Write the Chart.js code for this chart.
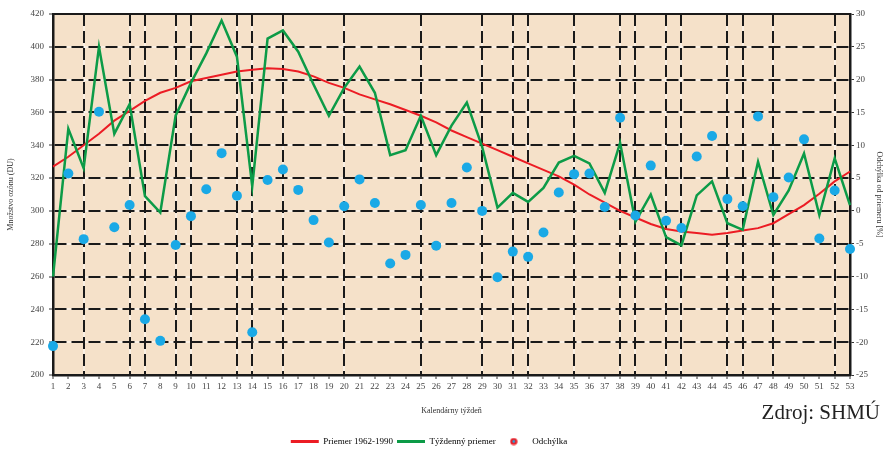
<!DOCTYPE html>
<html>
<head>
<meta charset="utf-8">
<script src="https://cdn.jsdelivr.net/npm/chart.js@4.4.1/dist/chart.umd.min.js"></script>
<style>
    html, body { margin: 0; padding: 0; background: #fff; }
    #wrap { position: relative; width: 884px; height: 450px; }
</style>
</head>
<body>
<div id="wrap"><canvas id="ozoneChart" width="884" height="450"></canvas></div>
<script>
// calendar weeks
const weeks = ['1','2','3','4','5','6','7','8','9','10','11','12','13','14','15','16','17','18','19','20',
    '21','22','23','24','25','26','27','28','29','30','31','32','33','34','35','36','37','38','39','40',
    '41','42','43','44','45','46','47','48','49','50','51','52','53'];

// Priemer 1962-1990 (DU)
const normal = [327, 333, 340, 347, 355, 361, 367, 372, 375, 379, 381, 383, 385, 386, 387, 386.5, 385, 382, 378, 375,
    371, 368, 365, 361.5, 358, 354, 349, 345, 341, 337, 333, 329, 325, 321, 316, 310, 305, 300, 296, 292,
    289, 287.5, 286.5, 285.5, 286.5, 288, 289.5, 292.5, 298, 303.5, 310.5, 318, 324];

// Týždenný priemer (DU)
const weekly = [260, 350, 326, 400, 347, 365, 309, 299, 358, 378, 396, 416, 394, 315, 405, 410, 397, 377, 358, 375,
    388, 372, 334, 337, 358, 334, 352, 366, 339, 302, 311, 305.5, 314, 329.5, 333.5, 329, 311, 341.5, 293.5, 310,
    284, 279, 309.5, 318, 292.5, 288.5, 330, 297.5, 312.5, 335, 297.5, 332, 303.5];

// Odchýlka (%)
const deviation = [-20.6, 5.7, -4.3, 15.1, -2.5, 0.9, -16.5, -19.8, -5.2, -0.8, 3.3, 8.8, 2.3, -18.5, 4.7, 6.3, 3.2, -1.4, -4.8, 0.7,
    4.8, 1.2, -8.0, -6.7, 0.9, -5.3, 1.2, 6.6, 0.0, -10.1, -6.2, -7.0, -3.3, 2.8, 5.6, 5.7, 0.6, 14.2, -0.7, 6.9,
    -1.5, -2.6, 8.3, 11.4, 1.8, 0.7, 14.4, 2.1, 5.1, 10.9, -4.2, 3.1, -5.8];

// weeks that get a vertical grid line
const gridWeeks = ['3','6','7','9','10','13','14','16','20','25','29','31','32','35','38','39','41','42','45','46','48','52'];

const RED = '#ec1c24';
const GREEN = '#0c9b47';
const BLUE = '#1aa9e6';
const SERIF = '"Liberation Serif", "Times New Roman", serif';

// little icon for the "Odchýlka" legend entry
const dotIcon = document.createElement('canvas');
dotIcon.width = 8; dotIcon.height = 8;
(function () {
    const c = dotIcon.getContext('2d');
    c.fillStyle = RED;
    c.beginPath(); c.arc(4, 4, 3.6, 0, Math.PI * 2); c.fill();
    c.fillStyle = BLUE;
    c.beginPath(); c.arc(4, 4, 1.4, 0, Math.PI * 2); c.fill();
})();

// background + white lines under the dashed grid, frame on top
const plotBackground = {
    id: 'plotBackground',
    beforeDraw(chart) {
        const { ctx, chartArea: a, scales } = chart;
        ctx.save();
        ctx.fillStyle = '#f5e1c9';
        ctx.fillRect(a.left, a.top, a.right - a.left, a.bottom - a.top);
        ctx.strokeStyle = '#ffffff';
        ctx.lineWidth = 1;
        ctx.beginPath();
        scales.y.ticks.forEach(t => {
            const py = Math.round(scales.y.getPixelForValue(t.value));
            ctx.moveTo(a.left, py); ctx.lineTo(a.right, py);
        });
        gridWeeks.forEach(w => {
            const px = Math.round(scales.x.getPixelForValue(weeks.indexOf(w)));
            ctx.moveTo(px, a.top); ctx.lineTo(px, a.bottom);
        });
        ctx.stroke();
        ctx.restore();
    },
    afterDatasetsDraw(chart) {
        const { ctx, chartArea: a } = chart;
        ctx.save();
        ctx.strokeStyle = '#1a1a1a';
        ctx.lineWidth = 2;
        ctx.beginPath();
        ctx.moveTo(a.left - 1, a.top); ctx.lineTo(a.right + 1, a.top);
        ctx.stroke();
        ctx.restore();
    },
    afterLayout(chart) {
        // legend sits left of centre and low in the original
        chart.legend.left -= 13;
        chart.legend.right -= 13;
        chart.legend.top += 6;
        chart.legend.bottom += 6;
    },
    afterDraw(chart) {
        const ctx = chart.ctx;
        ctx.save();
        ctx.fillStyle = '#222';
        ctx.font = '21px ' + SERIF;
        ctx.textBaseline = 'middle';
        ctx.textAlign = 'right';
        ctx.fillText('Zdroj: SHMÚ', 880, 413);
        ctx.restore();
    }
};

const ozoneChart = new Chart(document.getElementById('ozoneChart'), {
    type: 'line',
    data: {
        labels: weeks,
        datasets: [{
            label: 'Priemer 1962-1990',
            data: normal,
            borderColor: RED,
            backgroundColor: RED,
            borderWidth: 2,
            pointRadius: 0,
            tension: 0,
            yAxisID: 'y',
            order: 3
        },
        {
            label: 'Týždenný priemer',
            data: weekly,
            borderColor: GREEN,
            backgroundColor: GREEN,
            borderWidth: 2.5,
            pointRadius: 0,
            tension: 0,
            yAxisID: 'y',
            order: 2
        },
        {
            label: 'Odchýlka',
            data: deviation,
            showLine: false,
            pointRadius: 5,
            pointBackgroundColor: BLUE,
            pointBorderWidth: 0,
            borderColor: BLUE,
            yAxisID: 'y1',
            order: 1
        }]
    },
    options: {
        responsive: false,
        animation: false,
        layout: {
            padding: { top: 14, left: 0, right: 0, bottom: 0 }
        },
        plugins: {
            tooltip: { enabled: false },
            legend: {
                position: 'bottom',
                labels: {
                    usePointStyle: true,
                    pointStyleWidth: 28,
                    boxHeight: 9,
                    padding: 4,
                    color: '#333',
                    font: { family: SERIF, size: 9 },
                    generateLabels: function (chart) {
                        return [
                            { text: 'Priemer 1962-1990', pointStyle: 'line', strokeStyle: RED, fillStyle: RED, lineWidth: 3, datasetIndex: 0 },
                            { text: 'Týždenný priemer', pointStyle: 'line', strokeStyle: GREEN, fillStyle: GREEN, lineWidth: 3, datasetIndex: 1 },
                            { text: 'Odchýlka', pointStyle: dotIcon, strokeStyle: RED, fillStyle: RED, lineWidth: 0, datasetIndex: 2 }
                        ];
                    }
                }
            }
        },
        scales: {
            x: {
                offset: false,
                afterFit: function (scale) { scale.height = 52; },
                grid: {
                    color: function (c) {
                        return gridWeeks.indexOf(weeks[c.index]) >= 0 ? '#1a1a1a' : 'rgba(0,0,0,0)';
                    },
                    lineWidth: 2,
                    tickColor: '#333',
                    tickLength: 4,
                    tickWidth: 1
                },
                border: { color: '#1a1a1a', width: 2.5, dash: [12, 5] },
                ticks: {
                    autoSkip: false,
                    maxRotation: 0,
                    padding: 2,
                    color: '#444',
                    font: { family: SERIF, size: 9 }
                },
                title: {
                    display: true,
                    text: 'Kalendárny týždeň',
                    color: '#333',
                    font: { family: SERIF, size: 8 },
                    padding: { top: 0, bottom: 11 }
                }
            },
            y: {
                position: 'left',
                min: 200,
                max: 420,
                afterFit: function (scale) { scale.width = 53; },
                grid: {
                    color: function (c) {
                        return (c.tick.value === 200 || c.tick.value === 420) ? 'rgba(0,0,0,0)' : '#1a1a1a';
                    },
                    lineWidth: 2,
                    tickColor: '#333',
                    tickLength: 4,
                    tickWidth: 1
                },
                border: { color: '#1a1a1a', width: 2.5, dash: [12, 5] },
                ticks: {
                    stepSize: 20,
                    padding: 5,
                    color: '#444',
                    font: { family: SERIF, size: 9 }
                },
                title: {
                    display: true,
                    text: 'Množstvo ozónu (DU)',
                    color: '#333',
                    font: { family: SERIF, size: 8 },
                    padding: { top: 6, bottom: 0 }
                }
            },
            y1: {
                position: 'right',
                min: -25,
                max: 30,
                afterFit: function (scale) { scale.width = 34; },
                grid: {
                    drawOnChartArea: false,
                    tickColor: '#333',
                    tickLength: 4,
                    tickWidth: 1
                },
                border: { color: '#1a1a1a', width: 2.5 },
                ticks: {
                    stepSize: 5,
                    padding: 2,
                    color: '#444',
                    font: { family: SERIF, size: 9 }
                },
                title: {
                    display: true,
                    text: 'Odchýlka od priemeru [%]',
                    color: '#333',
                    font: { family: SERIF, size: 8 },
                    padding: { top: 0, bottom: 0 }
                }
            }
        }
    },
    plugins: [plotBackground]
});
</script>
</body>
</html>
